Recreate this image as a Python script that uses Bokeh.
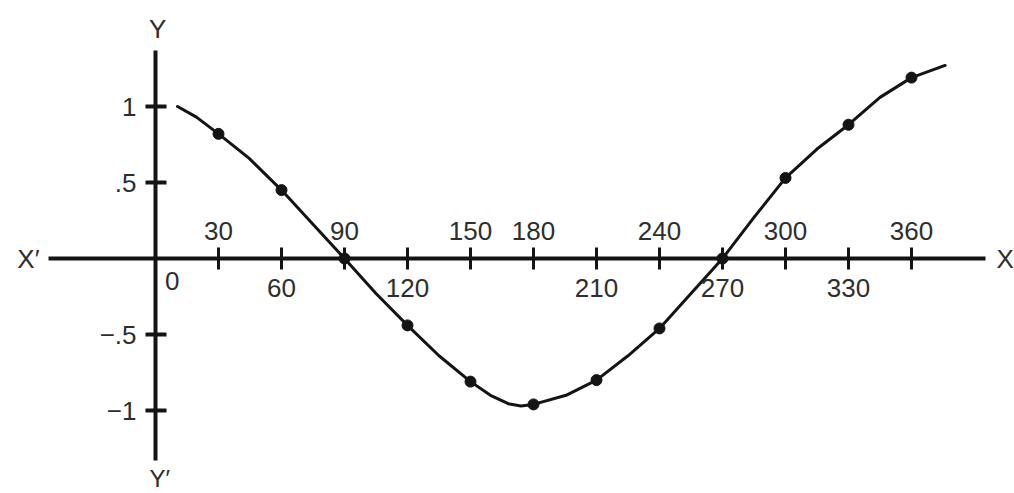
from bokeh.plotting import figure
from bokeh.models import LinearAxis, FixedTicker, Range1d
from bokeh.core.properties import value
from bokeh.embed import file_html
from bokeh.resources import INLINE

# ---- data ----
pt_x = [30, 60, 90, 120, 150, 180, 210, 240, 270, 300, 330, 360]
pt_y = [0.82, 0.45, 0.0, -0.44, -0.81, -0.96, -0.80, -0.46, 0.0, 0.53, 0.88, 1.19]

curve_x = [10.5, 19.5, 30, 44.5, 60, 74, 90, 105, 120, 135, 150, 159.5, 168, 174,
           180, 195.5, 210, 225, 240, 255, 270, 285, 300, 315, 330, 345, 360, 376]
curve_y = [1.0, 0.93, 0.82, 0.66, 0.45, 0.24, 0.0, -0.23, -0.44, -0.64, -0.81,
           -0.90, -0.955, -0.97, -0.96, -0.90, -0.80, -0.64, -0.46, -0.23, 0.0,
           0.27, 0.53, 0.72, 0.88, 1.06, 1.19, 1.27]

x_ticks_below = [60, 120, 210, 270, 330]
x_ticks_above = [30, 90, 150, 180, 240, 300, 360]
y_ticks = [-1, -0.5, 0.5, 1]
y_tick_labels = {1: "1", 0.5: ".5", -0.5: "\u2212.5", -1: "\u22121"}

FONT = "Liberation Sans"
TXT = "#2e2e2e"
INK = "#141414"
FS = "26px"

W, H = 1014, 493
PX_DEG = 2.1     # pixels per degree
PX_UNIT = 152.0  # pixels per unit of y
X0 = -155 / PX_DEG
Y1 = 258 / PX_UNIT
p = figure(width=W, height=H, output_backend="svg", toolbar_location=None,
           x_axis_type=None, y_axis_type=None,
           x_range=Range1d(X0, X0 + W / PX_DEG), y_range=Range1d(Y1 - H / PX_UNIT, Y1),
           min_border=0, outline_line_color=None)
p.background_fill_color = "white"
p.border_fill_color = "white"


def style(ax, tick_w, t_in, t_out, standoff):
    ax.fixed_location = 0
    ax.major_tick_line_width = tick_w
    ax.major_tick_line_color = INK
    ax.major_tick_in = t_in
    ax.major_tick_out = t_out
    ax.minor_tick_line_color = None
    ax.major_label_text_font = FONT
    ax.major_label_text_font_size = FS
    ax.major_label_text_color = TXT
    ax.major_label_standoff = standoff
    ax.axis_line_color = INK
    ax.axis_line_width = 4


xb = LinearAxis(ticker=FixedTicker(ticks=x_ticks_below))
style(xb, 3, 11, 11, 9)
xb.bounds = (-51, 395)
p.add_layout(xb, "below")

xa = LinearAxis(ticker=FixedTicker(ticks=x_ticks_above))
style(xa, 3, 11, 11, 8)
xa.axis_line_color = None
p.add_layout(xa, "above")

ya = LinearAxis(ticker=FixedTicker(ticks=y_ticks), major_label_overrides=y_tick_labels)
style(ya, 4, 11, 10, 9)
ya.bounds = (-1.33, 1.368)
p.add_layout(ya, "left")

p.line(curve_x, curve_y, line_width=3, line_color=INK, line_join="round", line_cap="round")
p.scatter(pt_x, pt_y, size=11, fill_color=INK, line_color=INK)

# axis names and origin label
p.text(x=[-60.5], y=[0], text=["X\u2032"], text_font=value(FONT), text_font_size=FS,
       text_color=TXT, text_align="center", text_baseline="middle")
p.text(x=[400.5], y=[0], text=["X"], text_font=value(FONT), text_font_size=FS,
       text_color=TXT, text_align="left", text_baseline="middle")
p.text(x=[1], y=[1.513], text=["Y"], text_font=value(FONT), text_font_size=FS,
       text_color=TXT, text_align="center", text_baseline="middle")
p.text(x=[2], y=[-1.535], text=["Y\u2032"], text_font=value(FONT), text_font_size="24px",
       text_color=TXT, text_align="center", text_baseline="bottom")
p.text(x=[8], y=[-0.151], text=["0"], text_font=value(FONT), text_font_size=FS,
       text_color=TXT, text_align="center", text_baseline="middle")

open("out.html", "w").write(file_html(p, INLINE))
